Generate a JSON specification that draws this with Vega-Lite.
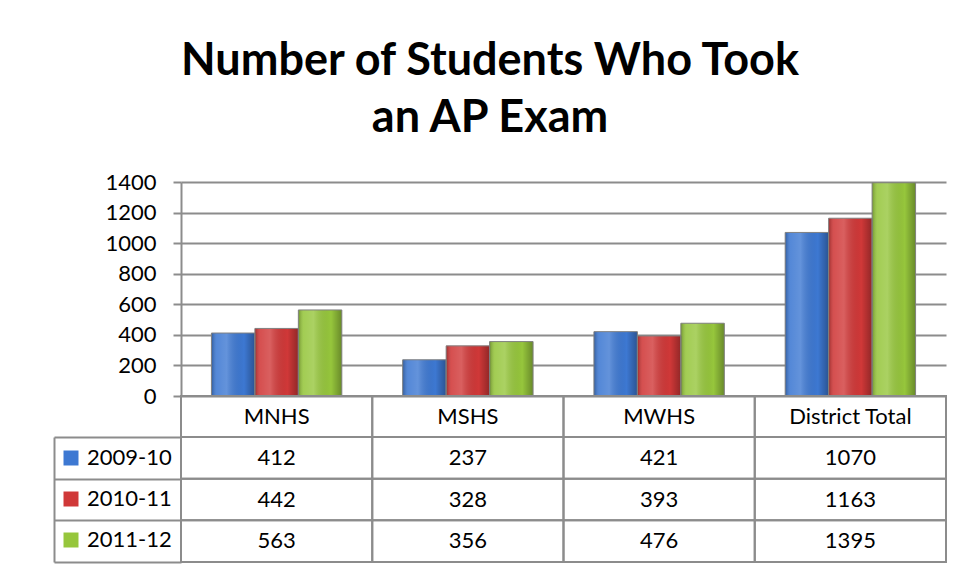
{
  "$schema": "https://vega.github.io/schema/vega-lite/v6.json",
  "padding": {"left": 53, "top": 39, "right": 13, "bottom": 7},
  "title": {
    "text": ["Number of Students Who Took", "an AP Exam"],
    "fontSize": 45, "font": "Lato", "fontWeight": "bold", "lineHeight": 57,
    "anchor": "middle", "offset": 30, "dx": -10, "color": "black"
  },
  "datasets": {
    "ap": [
      {"school": "MNHS", "year": "2009-10", "students": 412},
      {"school": "MNHS", "year": "2010-11", "students": 442},
      {"school": "MNHS", "year": "2011-12", "students": 563},
      {"school": "MSHS", "year": "2009-10", "students": 237},
      {"school": "MSHS", "year": "2010-11", "students": 328},
      {"school": "MSHS", "year": "2011-12", "students": 356},
      {"school": "MWHS", "year": "2009-10", "students": 421},
      {"school": "MWHS", "year": "2010-11", "students": 393},
      {"school": "MWHS", "year": "2011-12", "students": 476},
      {"school": "District Total", "year": "2009-10", "students": 1070},
      {"school": "District Total", "year": "2010-11", "students": 1163},
      {"school": "District Total", "year": "2011-12", "students": 1395}
    ]
  },
  "config": {"font": "Lato", "view": {"stroke": null}},
  "spacing": 0,
  "bounds": "flush",
  "resolve": {"scale": {"x": "independent", "y": "independent"}},
  "vconcat": [
    {
      "width": 765, "height": 214,
      "data": {"name": "ap"},
      "encoding": {
        "x": {"field": "school", "type": "nominal", "sort": ["MNHS", "MSHS", "MWHS", "District Total"], "scale": {"paddingInner": 0, "paddingOuter": 0}, "axis": null},
        "xOffset": {"field": "year", "type": "nominal", "sort": ["2009-10", "2010-11", "2011-12"], "scale": {"paddingInner": 0, "paddingOuter": 0.7}},
        "y": {"field": "students", "type": "quantitative", "scale": {"domain": [0, 1400], "nice": false},
          "axis": {"values": [0, 200, 400, 600, 800, 1000, 1200, 1400], "format": "d", "title": null, "grid": true, "gridColor": "#8c8c8c", "gridWidth": 2, "domainColor": "#8c8c8c", "domainWidth": 2, "tickColor": "#8c8c8c", "tickWidth": 2, "tickSize": 8, "labelFontSize": 22, "labelColor": "black", "labelPadding": 17, "labelFont": "Lato"}}
      },
      "layer": [
        {
          "mark": {"type": "bar"},
          "encoding": {
            "color": {"field": "year", "type": "nominal", "sort": ["2009-10", "2010-11", "2011-12"],
              "scale": {"domain": ["2009-10", "2010-11", "2011-12"], "range": ["#3d78d2", "#d03838", "#96c63c"]},
              "legend": {"orient": "none", "legendX": -121, "legendY": 265, "title": null, "symbolType": "square", "symbolSize": 225, "symbolStrokeWidth": 0, "labelFontSize": 22, "labelColor": "black", "labelFont": "Lato", "rowPadding": 19, "labelOffset": 5}}
          }
        },
        {
          "mark": {"type": "bar", "stroke": "#808080", "strokeWidth": 1,
            "fill": {"gradient": "linear", "x1": 0, "x2": 1, "y1": 0, "y2": 0,
              "stops": [
                {"offset": 0, "color": "rgba(0,0,0,0.25)"},
                {"offset": 0.12, "color": "rgba(255,255,255,0.12)"},
                {"offset": 0.35, "color": "rgba(255,255,255,0.2)"},
                {"offset": 0.75, "color": "rgba(0,0,0,0)"},
                {"offset": 1, "color": "rgba(0,0,0,0.3)"}
              ]}}
        }
      ]
    },
    {
      "width": 765, "height": 41,
      "data": {"name": "ap"},
      "transform": [{"filter": "datum.year === '2009-10'"}],
      "encoding": {
        "x": {"field": "school", "type": "nominal", "sort": ["MNHS", "MSHS", "MWHS", "District Total"], "scale": {"paddingInner": 0, "paddingOuter": 0}, "axis": null}
      },
      "layer": [
        {"mark": {"type": "rect", "fill": "transparent", "stroke": "#8c8c8c", "strokeWidth": 2}},
        {"mark": {"type": "text", "fontSize": 22, "color": "black", "font": "Lato"}, "encoding": {"text": {"field": "school"}}}
      ]
    },
    {
      "width": 765, "height": 125,
      "data": {"name": "ap"},
      "encoding": {
        "x": {"field": "school", "type": "nominal", "sort": ["MNHS", "MSHS", "MWHS", "District Total"], "scale": {"paddingInner": 0, "paddingOuter": 0}, "axis": null},
        "y": {"field": "year", "type": "nominal", "sort": ["2009-10", "2010-11", "2011-12"], "scale": {"paddingInner": 0, "paddingOuter": 0},
          "axis": {"orient": "left", "offset": 127, "tickSize": -127, "tickBand": "extent", "labels": false, "title": null, "grid": false, "domainColor": "#8c8c8c", "domainWidth": 2, "tickColor": "#8c8c8c", "tickWidth": 2}}
      },
      "layer": [
        {"mark": {"type": "rect", "fill": "transparent", "stroke": "#8c8c8c", "strokeWidth": 2}},
        {"mark": {"type": "text", "fontSize": 22, "color": "black", "font": "Lato"}, "encoding": {"text": {"field": "students", "type": "quantitative"}}}
      ]
    }
  ]
}
